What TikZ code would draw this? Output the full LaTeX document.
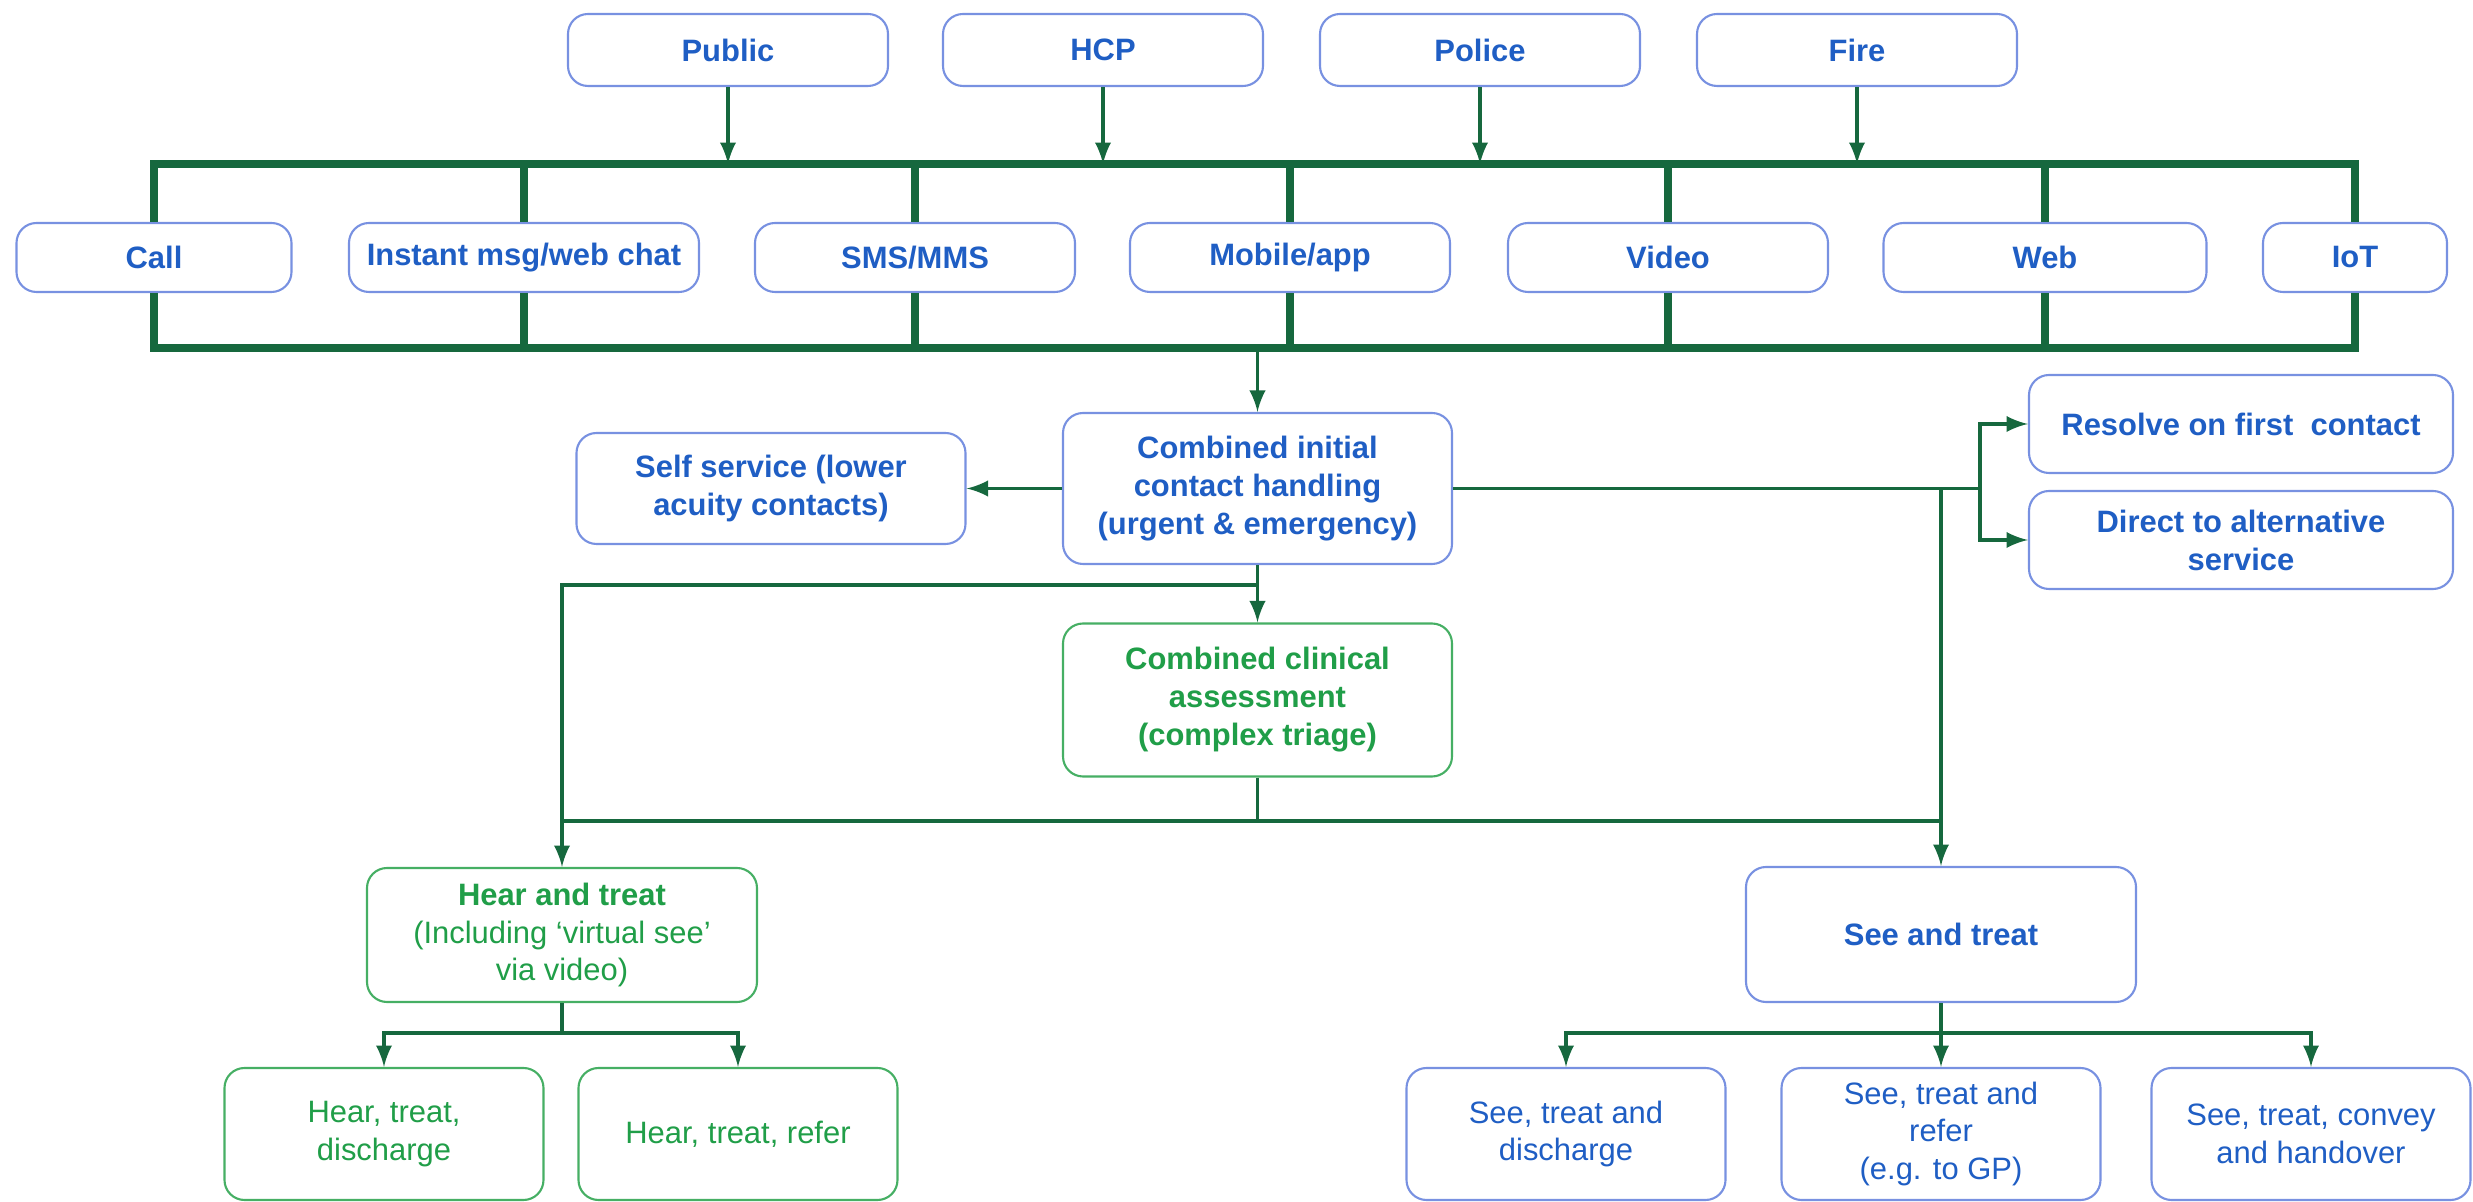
\documentclass[tikz,border=0pt]{standalone}
\usepackage{fontspec}
\setmainfont{Liberation Sans}
\usepackage{xcolor}
\usepackage{tikz}
\definecolor{nhsblue}{RGB}{31,94,196}
\definecolor{edgeblue}{RGB}{120,145,225}
\definecolor{linegreen}{RGB}{22,104,62}
\definecolor{textgreen}{RGB}{32,158,72}
\definecolor{edgegreen}{RGB}{70,175,100}

\begin{document}
\begin{tikzpicture}[
	box/.style={rounded corners=2mm,fill=white,line width=0.6pt,align=center,inner sep=1pt,font=\fontsize{8.8}{10.8}\selectfont},
	strong/.style={font=\fontsize{8.8}{10.8}\selectfont\bfseries},
	bluebox/.style={box,draw=edgeblue,text=nhsblue},
	greenbox/.style={box,draw=edgegreen,text=textgreen},
	src/.style={bluebox,strong,minimum width=3.2cm,minimum height=0.72cm},
	chan/.style={bluebox,strong,minimum height=0.69cm},
	leaf/.style={minimum width=3.19cm,minimum height=1.32cm},
	bus/.style={linegreen,line width=2.3pt},
	link/.style={linegreen,line width=1.1pt},
	arr/.style={link,-latex}]
	\useasboundingbox (0,0) rectangle (24.73,-12.02);
	% who gets in touch
	\node[src] (public) at (7.28,-0.50) {Public};
	\node[src] (hcp) at (11.03,-0.50) {HCP};
	\node[src] (police) at (14.80,-0.50) {Police};
	\node[src] (fire) at (18.57,-0.50) {Fire};
	% channels
	\node[chan,minimum width=2.75cm] (call) at (1.54,-2.575) {Call};
	\node[chan,minimum width=3.5cm] (chat) at (5.24,-2.575) {Instant msg/web chat};
	\node[chan,minimum width=3.2cm] (sms) at (9.15,-2.575) {SMS/MMS};
	\node[chan,minimum width=3.2cm] (mobile) at (12.90,-2.575) {Mobile/app};
	\node[chan,minimum width=3.2cm] (video) at (16.68,-2.575) {Video};
	\node[chan,minimum width=3.23cm] (web) at (20.45,-2.575) {Web};
	\node[chan,minimum width=1.84cm] (iot) at (23.55,-2.575) {IoT};
	\coordinate (tb) at (0,-1.64);
	\coordinate (bb) at (0,-3.48);
	\draw[bus] (call.north) |- (iot |- tb) -- (iot.north);
	\draw[bus] (call.south) |- (iot |- bb) -- (iot.south);
	\foreach \c in {chat,sms,mobile,video,web}
	\draw[bus] (\c.north) -- (\c |- tb) (\c.south) -- (\c |- bb);
	\foreach \s in {public,hcp,police,fire}
	\draw[arr] (\s.south) -- (\s |- tb);
	% first contact
	\node[bluebox,strong,minimum width=3.89cm,minimum height=1.51cm] (init) at (12.575,-4.885) {Combined initial\\contact handling\\(urgent \& emergency)};
	\node[bluebox,strong,minimum width=3.89cm,minimum height=1.11cm] (self) at (7.71,-4.885) {Self service (lower\\acuity contacts)};
	\node[bluebox,strong,minimum width=4.24cm,minimum height=0.98cm] (resolve) at (22.41,-4.24) {Resolve on first\ \ contact};
	\node[bluebox,strong,minimum width=4.24cm,minimum height=0.98cm] (direct) at (22.41,-5.40) {Direct to alternative\\service};
	\node[greenbox,strong,minimum width=3.89cm,minimum height=1.53cm] (clin) at (12.575,-7.00) {Combined clinical\\assessment\\(complex triage)};
	\draw[arr] (init |- bb) -- (init.north);
	\draw[arr] (init.west) -- (self.east);
	\coordinate (fork) at (19.80,-4.885);
	\draw[link] (init.east) -- (fork);
	\draw[arr] (fork) |- (resolve.west);
	\draw[arr] (fork) |- (direct.west);
	% outcomes
	\node[greenbox,minimum width=3.90cm,minimum height=1.34cm] (hear) at (5.62,-9.35) {\textbf{Hear and treat}\\(Including `virtual see'\\via video)};
	\node[bluebox,strong,minimum width=3.90cm,minimum height=1.35cm] (see) at (19.41,-9.345) {See and treat};
	\node[greenbox,leaf] (hd) at (3.84,-11.34) {Hear, treat,\\discharge};
	\node[greenbox,leaf] (hr) at (7.38,-11.34) {Hear, treat, refer};
	\node[bluebox,leaf] (sd) at (15.66,-11.34) {See, treat and\\discharge};
	\node[bluebox,leaf] (sr) at (19.41,-11.34) {See, treat and\\refer\\(e.g. to GP)};
	\node[bluebox,leaf] (sc) at (23.11,-11.34) {See, treat, convey\\and handover};
	\coordinate (split) at (0,-5.85);
	\coordinate (merge) at (0,-8.21);
	\coordinate (fan) at (0,-10.33);
	\draw[arr] (see |- init.east) -- (see.north);
	\draw[arr] (init.south) -- (clin.north);
	\draw[arr] (init |- split) -| (hear.north);
	\draw[link] (clin.south) -- (clin |- merge);
	\draw[link] (hear |- merge) -- (see |- merge);
	\draw[link] (hear.south) -- (hear |- fan);
	\draw[arr] (hear |- fan) -| (hd.north);
	\draw[arr] (hear |- fan) -| (hr.north);
	\draw[link] (see.south) -- (see |- fan);
	\draw[arr] (see |- fan) -| (sd.north);
	\draw[arr] (see.south) -- (sr.north);
	\draw[arr] (see |- fan) -| (sc.north);
\end{tikzpicture}
\end{document}
